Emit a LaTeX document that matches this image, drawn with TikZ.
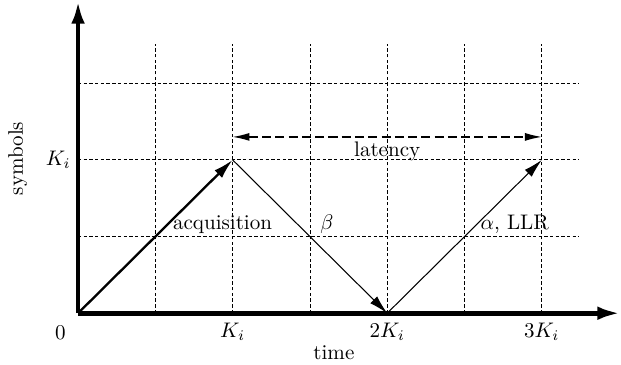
\documentclass[tikz,border=0pt]{standalone}
\usetikzlibrary{arrows.meta}

\begin{document}
\begin{tikzpicture}[x=36.7pt, y=36.4pt, every node/.style={inner sep=0pt}]
\tikzset{
  gridline/.style={line width=0.4pt, dash pattern=on 1.6pt off 1.1pt},
  axisline/.style={line width=2.2pt, -{Latex[length=11pt,width=6.4pt]}},
  boldpath/.style={line width=1.1pt, -{Latex[length=9.5pt,width=5pt]}},
  thinpath/.style={line width=0.5pt, -{Latex[length=9pt,width=4.6pt]}},
  latencyline/.style={line width=0.6pt, dash pattern=on 4.3pt off 2pt,
    {Latex[length=8pt,width=3.8pt]}-{Latex[length=8pt,width=3.8pt]}},
  lbl/.style={font=\normalsize}
}
\useasboundingbox (-1.01,-0.666) rectangle (7.025,4.086);
% grid
\foreach \x in {1,...,6}
  \draw[gridline] (\x,0) -- (\x,3.51);
\foreach \y in {1,2,3}
  \draw[gridline] (0,\y) -- (6.48,\y);
% axes
\coordinate (O) at (0,0);
\coordinate (xend) at (7.02,0);
\coordinate (yend) at (0,4.08);
\draw[axisline] (O) -- (xend);
\draw[axisline] (O) -- (yend);
% symbol trajectory
\coordinate (peak) at (2,2);
\coordinate (low) at (4,0);
\coordinate (last) at (6,2);
\draw[boldpath] (O) -- (peak);
\draw[thinpath] (peak) -- (low);
\draw[thinpath] (low) -- (last);
% latency
\coordinate (latL) at (2,2.3);
\coordinate (latR) at (6,2.3);
\draw[latencyline] (latL) -- (latR);
\node[lbl, anchor=north] (latency) at (4,2.24) {latency};
% labels on the path
\node[lbl, anchor=south] (acq) at (1.87,1.03) {acquisition};
\node[lbl, anchor=south] (beta) at (3.22,1.03) {$\beta$};
\node[lbl, anchor=south] (llr) at (5.65,1.03) {$\alpha$, LLR};
% axis labels
\node[lbl] (zero) at (-0.23,-0.25) {0};
\node[lbl, anchor=north] (k1) at (2,-0.12) {$K_i$};
\node[lbl, anchor=north] (k2) at (4,-0.12) {$2K_i$};
\node[lbl, anchor=north] (k3) at (6,-0.12) {$3K_i$};
\node[lbl] (time) at (3.31,-0.51) {time};
\node[lbl, anchor=east] (ky) at (-0.09,2) {$K_i$};
\node[lbl, rotate=90] (symbols) at (-0.78,2.02) {symbols};
\end{tikzpicture}
\end{document}
